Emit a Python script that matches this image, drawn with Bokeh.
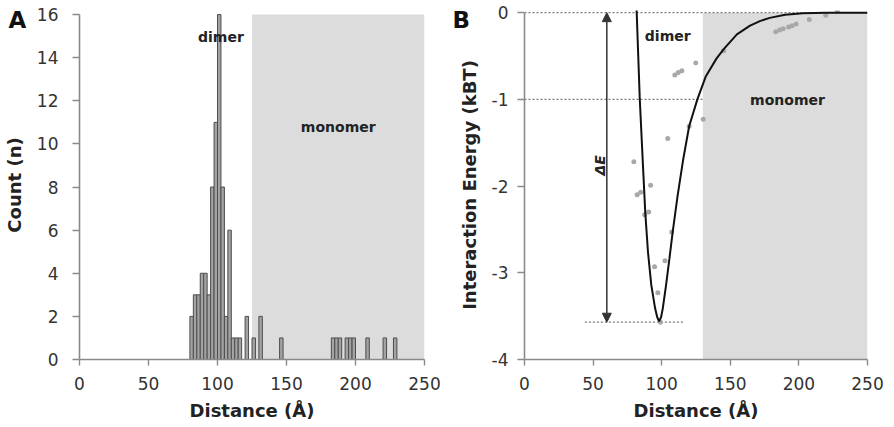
import math
from bokeh.plotting import figure
from bokeh.layouts import row
from bokeh.models import Range1d, Arrow, NormalHead, FixedTicker, Title
from bokeh.core.properties import value
from bokeh.embed import file_html
from bokeh.resources import INLINE

# ---------------- data ----------------
# Panel A: histogram of distances (bin left edges in Angstrom, counts)
bin_left = [80, 82.5, 85, 87.5, 90, 92.5, 95, 97.5, 100, 102.5, 105, 107.5,
            110, 112.5, 115, 120, 125, 130, 145, 182.5, 185, 187.5, 192.5,
            195, 197.5, 207.5, 220, 227.5]
bin_count = [2, 3, 3, 4, 4, 3, 8, 11, 16, 8, 2, 6,
             1, 1, 1, 2, 1, 2, 1, 1, 1, 1, 1,
             1, 1, 1, 1, 1]
bin_width = 2.5

# Panel B: interaction energy points
pts_dist = [79.7, 82.1, 84.7, 87.6, 90.5, 91.9, 94.8, 97.2, 99.1, 102.4, 104.4,
            107.3, 109.6, 112.1, 114.7, 120.0, 124.8, 130.3, 145.2, 183.1, 186.0,
            188.5, 192.5, 195.0, 198.0, 207.6, 219.6, 228.0]
pts_energy = [-1.72, -2.10, -2.07, -2.33, -2.30, -1.99, -2.93, -3.23, -3.57, -2.86, -1.45,
              -2.53, -0.72, -0.69, -0.67, -1.31, -0.58, -1.23, -0.44, -0.22, -0.20,
              -0.185, -0.165, -0.15, -0.13, -0.08, -0.03, 0.02]

# Panel B: fitted potential curve
fit_dist = [81.3, 81.6, 84.0, 86.3, 88.0, 90.0, 92.4, 95.2, 96.7, 98.1, 99.6, 100.8,
            103.2, 105.6, 108.0, 111.6, 115.7, 120.0, 126.0, 132.0, 139.9, 145.2,
            154.8, 164.4, 172.0, 178.8, 190.0, 202.8, 220.0, 250.0]
fit_energy = [0.15, 0.08, -0.99, -1.75, -2.30, -2.76, -3.14, -3.41, -3.51, -3.56, -3.51, -3.41,
              -3.14, -2.84, -2.53, -2.11, -1.69, -1.31, -1.00, -0.74, -0.53, -0.42,
              -0.25, -0.15, -0.095, -0.06, -0.025, -0.008, -0.002, 0.0]

monomer_start_a = 125
monomer_start_b = 130
dist_max = 250
count_max = 16
count_top = 16.19
energy_min_axis = -4
energy_top = 0.025
delta_e_x = 60
delta_e_min = -3.57
delta_e_line_x = [44, 116]
ref_levels = [0, -1]
ref_level_end = [250, 130]

x_ticks = [0, 50, 100, 150, 200, 250]
a_y_ticks = [0, 2, 4, 6, 8, 10, 12, 14, 16]
b_y_ticks = [-4, -3, -2, -1, 0]

FONT = "DejaVu Sans"
AXIS_COL = "#8a8a8a"
TXT = "#222222"


def style(p, label_standoff_y, axis_label_standoff_y):
    p.outline_line_color = None
    p.xgrid.grid_line_color = None
    p.ygrid.grid_line_color = None
    for ax in p.axis:
        ax.axis_line_color = AXIS_COL
        ax.axis_line_width = 1.6
        ax.major_tick_line_color = AXIS_COL
        ax.major_tick_line_width = 1.4
        ax.minor_tick_line_color = None
        ax.major_tick_in = 0
        ax.major_label_text_font = FONT
        ax.major_label_text_font_size = "17px"
        ax.major_label_text_color = "#333333"
        ax.axis_label_text_font = FONT
        ax.axis_label_text_font_size = "18px"
        ax.axis_label_text_font_style = "bold"
        ax.axis_label_text_color = TXT
    p.xaxis.major_tick_out = 6
    p.xaxis.major_label_standoff = 11
    p.xaxis.axis_label_standoff = 7
    p.yaxis.major_tick_out = 7
    p.yaxis.major_label_standoff = label_standoff_y
    p.yaxis.axis_label_standoff = axis_label_standoff_y
    p.xaxis.ticker = FixedTicker(ticks=x_ticks)
    p.xaxis.axis_label = "Distance (Å)"


def panel_letter(p, letter, offset):
    t = Title(text=letter, align="left", vertical_align="bottom", offset=offset,
              standoff=-45, text_font=FONT, text_font_size="23px",
              text_font_style="bold", text_color="#111111")
    p.add_layout(t, "above")


def region_label(p, x, y, txt):
    p.text(x=[x], y=[y], text=[txt], text_font=value(FONT), text_font_size="14px",
           text_font_style="bold", text_align="center", text_baseline="middle",
           text_color=TXT)


# ---------------- Panel A ----------------
pA = figure(frame_width=345, frame_height=349,
            x_range=Range1d(0, dist_max), y_range=Range1d(0, count_top),
            min_border_left=71, min_border_right=18, min_border_top=10, min_border_bottom=66,
            output_backend="svg", toolbar_location=None)
pA.quad(left=[monomer_start_a], right=[dist_max], bottom=[0], top=[count_max],
        fill_color="#dcdcdc", line_color=None)
pA.quad(left=bin_left, right=[b + bin_width for b in bin_left], bottom=0, top=bin_count,
        fill_color="#a3a3a3", line_color="#4d4d4d", line_width=1)
style(pA, 14, 9)
pA.yaxis.ticker = FixedTicker(ticks=a_y_ticks)
pA.yaxis.bounds = (0, count_max)
pA.yaxis.axis_label = "Count (n)"
region_label(pA, 102.5, 14.95, "dimer")
region_label(pA, 187.5, 10.8, "monomer")
panel_letter(pA, "A", -71)

# ---------------- Panel B ----------------
pB = figure(frame_width=343, frame_height=349,
            x_range=Range1d(0, dist_max), y_range=Range1d(energy_min_axis, energy_top),
            min_border_left=82, min_border_right=19, min_border_top=10, min_border_bottom=66,
            output_backend="svg", toolbar_location=None)
pB.quad(left=[monomer_start_b], right=[dist_max], bottom=[energy_min_axis], top=[0],
        fill_color="#dcdcdc", line_color=None)
pB.segment(x0=[0, 0], y0=ref_levels, x1=ref_level_end, y1=ref_levels,
           line_color="#7a7a7a", line_dash="2 2", line_width=1.2)
pB.line(x=delta_e_line_x, y=[delta_e_min, delta_e_min],
        line_color="#7a7a7a", line_dash="2 2", line_width=1.2)
pB.scatter(x=pts_dist, y=pts_energy, size=5, fill_color="#a8a8a8", line_color=None)
pB.line(x=fit_dist, y=fit_energy, line_color="#111111", line_width=2)
pB.add_layout(Arrow(start=NormalHead(size=9, fill_color="#333333", line_color="#333333"),
                    end=NormalHead(size=9, fill_color="#333333", line_color="#333333"),
                    x_start=delta_e_x, y_start=delta_e_min, x_end=delta_e_x, y_end=0,
                    line_color="#333333", line_width=1.5))
pB.text(x=[delta_e_x - 5], y=[-1.76], text=["ΔE"], angle=math.pi / 2,
        text_font=value(FONT), text_font_size="14px", text_font_style="bold italic",
        text_align="center", text_baseline="middle", text_color=TXT)
style(pB, 9, 9)
pB.yaxis.ticker = FixedTicker(ticks=b_y_ticks)
pB.yaxis.major_label_overrides = {v: str(v) for v in b_y_ticks}
pB.yaxis.bounds = (energy_min_axis, 0)
pB.yaxis.axis_label = "Interaction Energy (kBT)"
region_label(pB, 104.4, -0.27, "dimer")
region_label(pB, 191.7, -1.01, "monomer")
panel_letter(pB, "B", -72)

layout = row(pA, pB)
open("out.html", "w").write(file_html(layout, INLINE))
